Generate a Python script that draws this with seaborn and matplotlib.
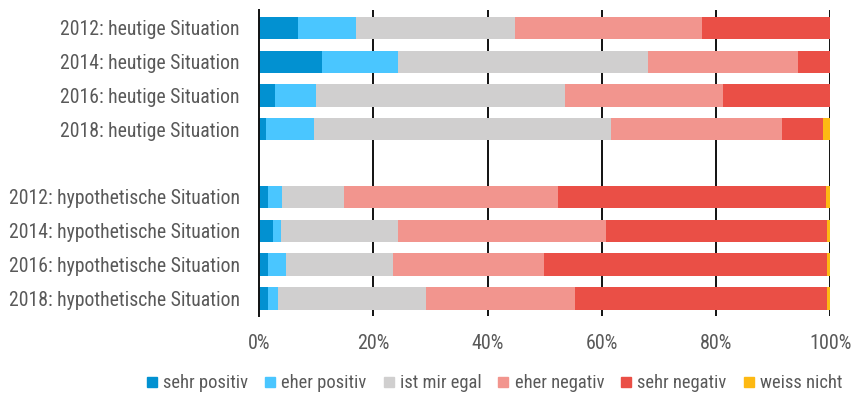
import matplotlib
matplotlib.use("Agg")
import matplotlib.pyplot as plt
from matplotlib.lines import Line2D
import numpy as np
import pandas as pd
import seaborn as sns

rows = [
    "2012: heutige Situation", "2014: heutige Situation",
    "2016: heutige Situation", "2018: heutige Situation",
    "2012: hypothetische Situation", "2014: hypothetische Situation",
    "2016: hypothetische Situation", "2018: hypothetische Situation",
]
categories = ["sehr positiv", "eher positiv", "ist mir egal",
              "eher negativ", "sehr negativ", "weiss nicht"]

sehr_positiv = [6.8, 11.1, 2.8, 1.3, 1.5, 2.5, 1.5, 1.5]
eher_positiv = [10.2, 13.2, 7.1, 8.3, 2.5, 1.3, 3.2, 1.9]
egal = [27.8, 43.8, 43.6, 52.0, 10.9, 20.5, 18.8, 25.9]
eher_negativ = [32.8, 26.3, 27.8, 30.0, 37.5, 36.4, 26.4, 26.1]
sehr_negativ = [22.4, 5.6, 18.7, 7.1, 46.8, 38.8, 49.6, 44.1]
weiss_nicht = [0.0, 0.0, 0.0, 1.3, 0.8, 0.5, 0.5, 0.5]

colors = ["#0291D1", "#4AC6FF", "#D0CFCF", "#F2958E", "#EA4F46", "#FDB913"]
ticks = [0, 20, 40, 60, 80, 100]
tick_labels = ["0%", "20%", "40%", "60%", "80%", "100%"]

sns.set_theme(style="white")
FONT = ["Roboto Condensed", "Archivo Narrow", "Asap Condensed", "DejaVu Sans"]
plt.rcParams["font.family"] = FONT
TXT = "#595959"

series = [sehr_positiv, eher_positiv, egal, eher_negativ, sehr_negativ, weiss_nicht]
vals = np.array(series)
shares = vals / vals.sum(axis=0) * 100
cum = np.cumsum(shares, axis=0)

order = rows[:4] + [" "] + rows[4:]

fig = plt.figure(figsize=(8.55, 3.98), dpi=100)
ax = fig.add_axes([0.303, 0.206, 0.668, 0.769])

for x in ticks[1:]:
    ax.axvline(x, color="#111111", lw=1.4, zorder=0)

# stacked bars: draw cumulative totals from the outermost segment inward
for i in range(len(categories) - 1, -1, -1):
    df = pd.DataFrame({"row": rows, "value": cum[i]})
    sns.barplot(data=df, x="value", y="row", order=order, color=colors[i],
                orient="h", width=0.66, saturation=1, linewidth=0,
                ax=ax, zorder=2)

ax.set_xlim(0, 100)
ax.set_ylim(8.52, -0.53)
ax.set_xticks(ticks)
ax.set_xticklabels(tick_labels)
ax.set_xlabel("")
ax.set_ylabel("")
for s in ["top", "right", "bottom"]:
    ax.spines[s].set_visible(False)
ax.spines["left"].set_color("#111111")
ax.spines["left"].set_linewidth(1.4)
ax.tick_params(axis="x", length=0, pad=13, labelsize=14.5, labelcolor=TXT)
ax.tick_params(axis="y", length=0, pad=14, labelsize=14.2, labelcolor=TXT)

handles = [Line2D([0], [0], marker="s", linestyle="", markersize=7,
                  markerfacecolor=c, markeredgecolor=c) for c in colors]
fig.legend(handles, categories, loc="center", bbox_to_anchor=(0.578, 0.037),
           ncol=6, frameon=False, handlelength=0.6, handletextpad=0.3,
           columnspacing=0.9, prop={"family": FONT, "size": 13.3},
           labelcolor=TXT)

fig.savefig("out.png", dpi=100)
